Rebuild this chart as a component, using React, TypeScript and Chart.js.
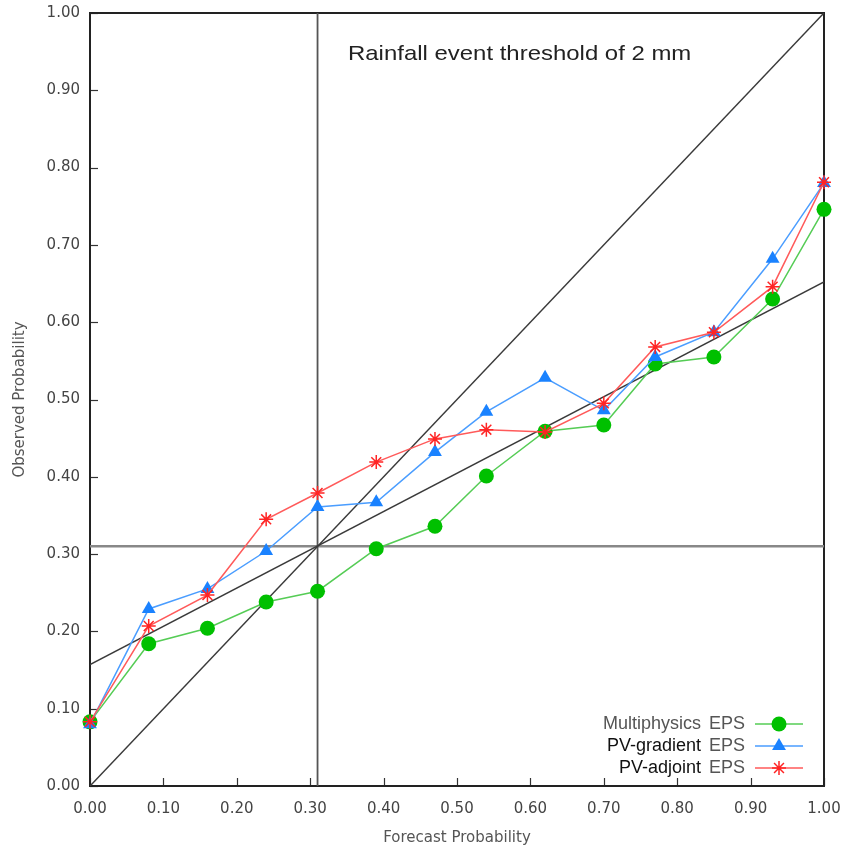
import React, { useEffect, useRef } from 'react';
import { Chart, registerables } from 'chart.js';

Chart.register(...registerables);

// Forecast probability bins (x) and observed frequencies (y) per ensemble
const forecastProb = [0, 0.08, 0.16, 0.24, 0.31, 0.39, 0.47, 0.54, 0.62, 0.7, 0.77, 0.85, 0.93, 1.0];
const multiphysics = [0.083, 0.184, 0.204, 0.238, 0.252, 0.307, 0.336, 0.401, 0.459, 0.467, 0.546, 0.555, 0.63, 0.746];
const pvGradient = [0.08, 0.229, 0.255, 0.304, 0.361, 0.367, 0.432, 0.484, 0.528, 0.486, 0.555, 0.587, 0.682, 0.78];
const pvAdjoint = [0.083, 0.207, 0.247, 0.345, 0.379, 0.419, 0.449, 0.461, 0.458, 0.495, 0.568, 0.587, 0.646, 0.781];

// Sample climatology and the skill line through it
const climatology = 0.31;
const skillLineStart = 0.157;
const skillLineEnd = 0.652;

const seriesLabels = ['Multiphysics', 'PV-gradient', 'PV-adjoint'];
const seriesSuffix = 'EPS';
const chartTitle = 'Rainfall event threshold of 2 mm';
const xAxisTitle = 'Forecast Probability';
const yAxisTitle = 'Observed Probability';

const GREEN = '#00c000';
const BLUE = '#1a82ff';
const RED = '#ff2424';

const toPoints = (ys: number[]) => ys.map((y, i) => ({ x: forecastProb[i], y }));

function drawMarker(ctx: CanvasRenderingContext2D, style: string, x: number, y: number, r: number, color: string) {
  ctx.save();
  ctx.fillStyle = color;
  ctx.strokeStyle = color;
  ctx.lineWidth = 1.5;
  ctx.beginPath();
  if (style === 'circle') {
    ctx.arc(x, y, r, 0, Math.PI * 2);
    ctx.fill();
  } else if (style === 'triangle') {
    let a = 0;
    ctx.moveTo(x + Math.sin(a) * r, y - Math.cos(a) * r);
    a += (2 * Math.PI) / 3;
    ctx.lineTo(x + Math.sin(a) * r, y - Math.cos(a) * r);
    a += (2 * Math.PI) / 3;
    ctx.lineTo(x + Math.sin(a) * r, y - Math.cos(a) * r);
    ctx.closePath();
    ctx.fill();
  } else {
    for (let k = 0; k < 4; k++) {
      const a = (k * Math.PI) / 4;
      ctx.moveTo(x + Math.cos(a) * r, y + Math.sin(a) * r);
      ctx.lineTo(x - Math.cos(a) * r, y - Math.sin(a) * r);
    }
    ctx.stroke();
  }
  ctx.restore();
}

const frameAndKey = {
  id: 'frameAndKey',
  beforeDatasetsDraw(chart: any) {
    const { ctx, chartArea: a, scales } = chart;
    const xs = scales.x;
    const ys = scales.y;
    ctx.save();
    // inward tick marks
    ctx.strokeStyle = '#333';
    ctx.lineWidth = 1.2;
    for (const t of ys.ticks) {
      const py = Math.round(ys.getPixelForValue(t.value)) + 0.5;
      ctx.beginPath();
      ctx.moveTo(a.left, py);
      ctx.lineTo(a.left + 8, py);
      ctx.stroke();
    }
    for (const t of xs.ticks) {
      const px = Math.round(xs.getPixelForValue(t.value)) + 0.5;
      ctx.beginPath();
      ctx.moveTo(px, a.bottom);
      ctx.lineTo(px, a.bottom - 8);
      ctx.stroke();
    }
    // plot frame
    ctx.strokeStyle = '#222';
    ctx.lineWidth = 2;
    ctx.strokeRect(a.left, a.top, a.right - a.left, a.bottom - a.top);
    ctx.restore();
  },
  afterDatasetsDraw(chart: any) {
    const { ctx, chartArea: a } = chart;
    ctx.save();
    // title inside the plot
    ctx.fillStyle = '#222';
    ctx.font = '21px "Liberation Sans", Arial, sans-serif';
    ctx.textBaseline = 'alphabetic';
    ctx.textAlign = 'left';
    ctx.translate(a.left + 258, a.top + 47);
    ctx.scale(1.14, 1);
    ctx.fillText(chartTitle, 0, 0);
    ctx.restore();

    // key in lower right corner
    const styles = ['circle', 'triangle', 'star'];
    const colors = [GREEN, BLUE, RED];
    const lineColors = ['#55cc55', '#4a9dff', '#ff5a5a'];
    const labelColors = ['#555', '#111', '#111'];
    const radii = [7.5, 8, 7];
    const rowY = [a.bottom - 62, a.bottom - 40, a.bottom - 18];
    const lineX0 = a.right - 69;
    const lineX1 = a.right - 21;
    const markX = a.right - 45;
    const textRight = a.right - 123;
    const suffixLeft = a.right - 115;
    ctx.save();
    ctx.font = '18px "Liberation Sans", Arial, sans-serif';
    ctx.textBaseline = 'middle';
    for (let i = 0; i < 3; i++) {
      const yy = rowY[i];
      ctx.fillStyle = labelColors[i];
      ctx.textAlign = 'right';
      ctx.fillText(seriesLabels[i], textRight, yy);
      ctx.fillStyle = '#555';
      ctx.textAlign = 'left';
      ctx.fillText(seriesSuffix, suffixLeft, yy);
      ctx.strokeStyle = lineColors[i];
      ctx.lineWidth = 1.5;
      ctx.beginPath();
      ctx.moveTo(lineX0, yy);
      ctx.lineTo(lineX1, yy);
      ctx.stroke();
      drawMarker(ctx, styles[i], markX, yy, radii[i], colors[i]);
    }
    ctx.restore();
  },
};

export default function App() {
  const canvasRef = useRef<HTMLCanvasElement | null>(null);

  useEffect(() => {
    if (!canvasRef.current) return;
    const tickFont = { family: '"DejaVu Sans", sans-serif', size: 15 };
    const refLine = (data: { x: number; y: number }[], color: string, width: number) => ({
      data,
      borderColor: color,
      borderWidth: width,
      pointRadius: 0,
      fill: false,
      order: 10,
    });

    const chart = new Chart(canvasRef.current, {
      type: 'line',
      data: {
        datasets: [
          refLine([{ x: 0, y: 0 }, { x: 1, y: 1 }], '#3a3a3a', 1.5),
          refLine([{ x: 0, y: skillLineStart }, { x: 1, y: skillLineEnd }], '#3a3a3a', 1.5),
          refLine([{ x: climatology, y: 0 }, { x: climatology, y: 1 }], '#555', 1.8),
          refLine([{ x: 0, y: climatology }, { x: 1, y: climatology }], '#888', 2.5),
          {
            label: 'Multiphysics EPS',
            data: toPoints(multiphysics),
            borderColor: '#55cc55',
            borderWidth: 1.5,
            pointStyle: 'circle',
            pointRadius: 7.5,
            pointBackgroundColor: GREEN,
            pointBorderColor: GREEN,
            pointBorderWidth: 0,
            clip: false,
            order: 3,
          },
          {
            label: 'PV-gradient EPS',
            data: toPoints(pvGradient),
            borderColor: '#4a9dff',
            borderWidth: 1.5,
            pointStyle: 'triangle',
            pointRadius: 8,
            pointBackgroundColor: BLUE,
            pointBorderColor: BLUE,
            pointBorderWidth: 0,
            clip: false,
            order: 2,
          },
          {
            label: 'PV-adjoint EPS',
            data: toPoints(pvAdjoint),
            borderColor: '#ff5a5a',
            borderWidth: 1.5,
            pointStyle: 'star',
            pointRadius: 7,
            pointBackgroundColor: RED,
            pointBorderColor: RED,
            pointBorderWidth: 1.5,
            clip: false,
            order: 1,
          },
        ],
      },
      options: {
        responsive: true,
        maintainAspectRatio: false,
        animation: false,
        layout: { padding: { top: 13, right: 18, left: 0, bottom: 0 } },
        plugins: {
          legend: { display: false },
          tooltip: { enabled: false },
        },
        elements: { line: { tension: 0 } },
        scales: {
          x: {
            type: 'linear',
            min: 0,
            max: 1,
            grid: { display: false, drawTicks: false },
            border: { display: false },
            ticks: {
              stepSize: 0.1,
              autoSkip: false,
              maxRotation: 0,
              padding: 14,
              color: '#444',
              font: tickFont,
              callback: (v: any) => Number(v).toFixed(2),
            },
            title: {
              display: true,
              text: xAxisTitle,
              color: '#555',
              font: tickFont,
              padding: { top: 0, bottom: 8 },
            },
            afterFit: (s: any) => {
              s.height = 69;
              s.paddingLeft = 0;
              s.paddingRight = 0;
            },
          },
          y: {
            type: 'linear',
            min: 0,
            max: 1,
            grid: { display: false, drawTicks: false },
            border: { display: false },
            ticks: {
              stepSize: 0.1,
              autoSkip: false,
              padding: 10,
              color: '#444',
              font: tickFont,
              callback: (v: any) => Number(v).toFixed(2),
            },
            title: {
              display: true,
              text: yAxisTitle,
              color: '#555',
              font: tickFont,
              padding: { top: 11, bottom: 0 },
            },
            afterFit: (s: any) => {
              s.width = 90;
              s.paddingTop = 0;
              s.paddingBottom = 0;
            },
          },
        },
      } as any,
      plugins: [frameAndKey],
    });
    return () => chart.destroy();
  }, []);

  return (
    <div style={{ position: 'absolute', left: 0, top: 0, width: 842, height: 855, background: '#fff' }}>
      <canvas ref={canvasRef} />
    </div>
  );
}
